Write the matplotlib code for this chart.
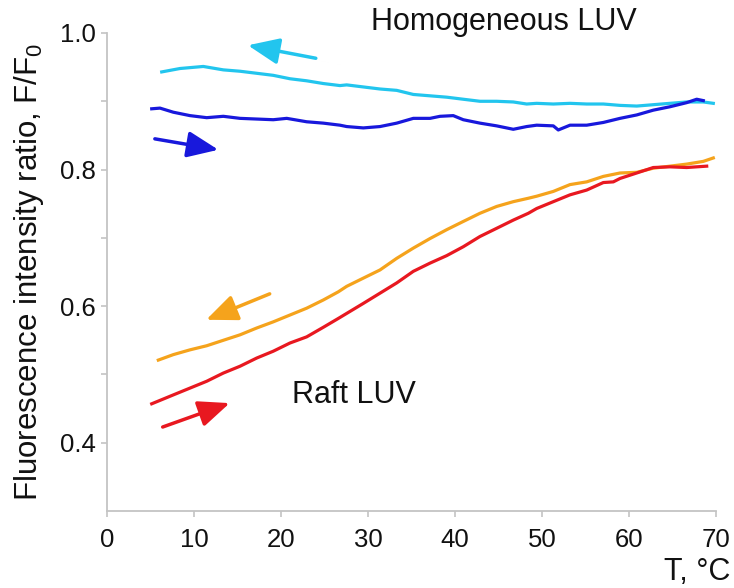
import matplotlib
matplotlib.use("Agg")
import matplotlib.pyplot as plt

plt.rcParams['font.family'] = ['Liberation Sans', 'DejaVu Sans']
plt.rcParams['mathtext.fontset'] = 'custom'
plt.rcParams['mathtext.rm'] = 'Liberation Sans'

# Homogeneous LUV, cooling (cyan)
cyan_T = [6.29, 8.39, 11.07, 13.37, 15.29, 17.21, 19.11, 21.03, 22.95, 24.86, 26.78, 27.55,
          29.46, 31.38, 33.30, 35.21, 37.13, 39.05, 40.95, 42.87, 44.79, 46.70, 48.24, 49.39,
          51.30, 53.22, 55.14, 57.05, 58.97, 60.89, 62.79, 64.71, 66.63, 68.54, 69.69]
cyan_F = [0.943, 0.948, 0.951, 0.946, 0.944, 0.941, 0.938, 0.933, 0.930, 0.926, 0.923, 0.924,
          0.921, 0.918, 0.916, 0.910, 0.908, 0.906, 0.903, 0.900, 0.900, 0.899, 0.896, 0.897,
          0.896, 0.897, 0.896, 0.896, 0.894, 0.893, 0.895, 0.897, 0.899, 0.899, 0.897]

# Homogeneous LUV, heating (blue)
blue_T = [5.14, 6.09, 7.62, 9.54, 11.46, 13.37, 15.29, 17.21, 19.11, 20.66, 22.95, 24.86,
          26.78, 27.55, 29.46, 31.38, 33.30, 35.21, 37.13, 38.28, 39.80, 40.95, 42.87, 44.79,
          46.70, 48.24, 49.39, 51.30, 51.87, 53.22, 55.14, 57.05, 58.97, 60.89, 62.79, 64.71,
          66.63, 67.78, 68.54]
blue_F = [0.889, 0.890, 0.884, 0.879, 0.876, 0.878, 0.875, 0.874, 0.873, 0.875, 0.870, 0.868,
          0.865, 0.863, 0.861, 0.863, 0.868, 0.875, 0.875, 0.878, 0.879, 0.873, 0.868, 0.864,
          0.859, 0.863, 0.865, 0.864, 0.858, 0.865, 0.865, 0.869, 0.875, 0.880, 0.887, 0.892,
          0.898, 0.903, 0.901]

# Raft LUV, cooling (orange)
orange_T = [5.90, 7.62, 9.54, 11.46, 13.37, 15.29, 17.21, 19.11, 21.03, 22.95, 24.86, 26.59,
            27.55, 29.46, 31.38, 33.30, 35.21, 37.13, 39.05, 40.95, 42.87, 44.79, 46.70, 48.43,
            49.39, 51.30, 53.22, 55.14, 57.05, 58.97, 60.89, 62.79, 64.71, 66.63, 68.54, 69.69]
orange_F = [0.521, 0.529, 0.536, 0.542, 0.550, 0.558, 0.568, 0.577, 0.587, 0.597, 0.609, 0.621,
            0.629, 0.641, 0.653, 0.670, 0.685, 0.699, 0.712, 0.724, 0.736, 0.746, 0.753, 0.758,
            0.761, 0.768, 0.778, 0.782, 0.790, 0.795, 0.796, 0.802, 0.805, 0.808, 0.812, 0.817]

# Raft LUV, heating (red)
red_T = [5.14, 7.62, 9.54, 11.46, 13.37, 15.29, 17.21, 19.11, 21.03, 22.95, 24.86, 26.59,
         29.46, 31.38, 33.30, 35.21, 37.13, 39.05, 40.95, 42.87, 44.79, 46.70, 48.43, 49.39,
         51.30, 53.22, 55.14, 57.05, 58.20, 58.97, 60.89, 62.79, 64.71, 66.63, 68.93]
red_F = [0.457, 0.470, 0.480, 0.490, 0.502, 0.512, 0.524, 0.534, 0.546, 0.555, 0.569, 0.582,
         0.604, 0.619, 0.634, 0.651, 0.663, 0.674, 0.687, 0.702, 0.714, 0.726, 0.736, 0.743,
         0.753, 0.763, 0.770, 0.781, 0.782, 0.787, 0.795, 0.803, 0.804, 0.803, 0.805]

x_ticks = [0, 10, 20, 30, 40, 50, 60, 70]
y_ticks = [0.4, 0.5, 0.6, 0.7, 0.8, 0.9, 1.0]
y_labels = ['0.4', '', '0.6', '', '0.8', '', '1.0']

C_CYAN = '#22c5ee'
C_BLUE = '#1818dc'
C_ORANGE = '#f5a31c'
C_RED = '#e81820'

fig = plt.figure(figsize=(7.34, 5.88), dpi=100)
ax = fig.add_axes([107/734, 1-511/588, (716-107)/734, (511-33)/588])

lw = 2.3
ax.plot(cyan_T, cyan_F, color=C_CYAN, lw=lw)
ax.plot(blue_T, blue_F, color=C_BLUE, lw=lw)
ax.plot(orange_T, orange_F, color=C_ORANGE, lw=lw)
ax.plot(red_T, red_F, color=C_RED, lw=lw)

def arrow(tail, head, color):
    ax.annotate('', xy=head, xytext=tail,
                arrowprops=dict(arrowstyle='-|>,head_length=0.95,head_width=0.4',
                                color=color, lw=2.5, mutation_scale=20,
                                shrinkA=0, shrinkB=0))

arrow((24.0, 0.963), (16.2, 0.982), C_CYAN)
arrow((5.5, 0.845), (12.8, 0.829), C_BLUE)
arrow((18.7, 0.618), (11.4, 0.580), C_ORANGE)
arrow((6.4, 0.423), (14.1, 0.458), C_RED)

ax.set_xlim(0, 70)
ax.set_ylim(0.3, 1.0)
ax.set_xticks(x_ticks)
ax.set_yticks(y_ticks)
ax.set_yticklabels(y_labels)

for s in ['top', 'right']:
    ax.spines[s].set_visible(False)
for s in ['left', 'bottom']:
    ax.spines[s].set_color('#c4c4c4')
    ax.spines[s].set_linewidth(1.3)

ax.tick_params(axis='both', colors='#c4c4c4', labelcolor='#111111', labelsize=18.5,
               length=4, width=1.2, direction='out')
ax.tick_params(axis='y', pad=4)
ax.tick_params(axis='x', pad=8)

ax.set_ylabel('Fluorescence intensity ratio, F/F$\\mathregular{_0}$', fontsize=22.5,
              color='#111111', labelpad=10)

ax.text(45.6, 1.016, 'Homogeneous LUV', fontsize=22, ha='center', va='center',
        color='#111111', clip_on=False)
ax.text(28.4, 0.470, 'Raft LUV', fontsize=22, ha='center', va='center', color='#111111')
fig.text(697/734, 1-572/588, 'T, °C', fontsize=22, ha='center', va='center', color='#111111')

fig.savefig('out.png', dpi=100)
